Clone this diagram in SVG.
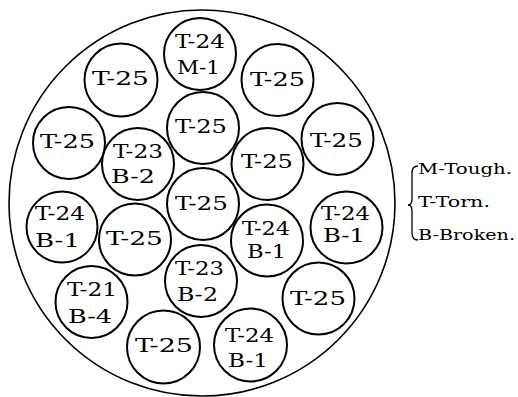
<svg xmlns="http://www.w3.org/2000/svg" width="518" height="397" viewBox="0 0 518 397">
<style>
.outer{fill:none;stroke:#000;stroke-width:1.6}
.c{fill:none;stroke:#000;stroke-width:2}
text{font-family:"DejaVu Serif","Liberation Serif",serif;font-size:18px;fill:#000;text-anchor:middle}
.lg{font-size:14px;text-anchor:start}
.br{fill:none;stroke:#000;stroke-width:1.3}
</style>
<rect width="518" height="397" fill="#fff"/>
<circle class="outer" cx="202" cy="203" r="193"/>
<g id="n1"><circle class="c" cx="200" cy="54" r="36"/><text x="200" y="48" textLength="50" lengthAdjust="spacingAndGlyphs">T-24</text><text x="198.5" y="74" textLength="43" lengthAdjust="spacingAndGlyphs">M-1</text></g>
<g id="n2"><circle class="c" cx="121" cy="80" r="36.5"/><text x="120.5" y="85" textLength="57" lengthAdjust="spacingAndGlyphs">T-25</text></g>
<g id="n3"><circle class="c" cx="277.5" cy="80" r="36"/><text x="277.5" y="86" textLength="55" lengthAdjust="spacingAndGlyphs">T-25</text></g>
<g id="n4"><circle class="c" cx="203" cy="128" r="36"/><text x="201" y="133" textLength="52" lengthAdjust="spacingAndGlyphs">T-25</text></g>
<g id="n5"><circle class="c" cx="69" cy="143" r="36"/><text x="67.5" y="148" textLength="55" lengthAdjust="spacingAndGlyphs">T-25</text></g>
<g id="n6"><circle class="c" cx="138" cy="164" r="36"/><text x="138" y="158" textLength="50" lengthAdjust="spacingAndGlyphs">T-23</text><text x="133" y="183" textLength="44" lengthAdjust="spacingAndGlyphs">B-2</text></g>
<g id="n7"><circle class="c" cx="267.5" cy="164" r="36"/><text x="267" y="168" textLength="52" lengthAdjust="spacingAndGlyphs">T-25</text></g>
<g id="n8"><circle class="c" cx="337.5" cy="139" r="36"/><text x="336.5" y="147" textLength="53" lengthAdjust="spacingAndGlyphs">T-25</text></g>
<g id="n9"><circle class="c" cx="203" cy="204" r="36"/><text x="201.5" y="210" textLength="53" lengthAdjust="spacingAndGlyphs">T-25</text></g>
<g id="n10"><circle class="c" cx="62" cy="227" r="35.5"/><text x="60" y="220" textLength="50" lengthAdjust="spacingAndGlyphs">T-24</text><text x="57.5" y="247" textLength="45" lengthAdjust="spacingAndGlyphs">B-1</text></g>
<g id="n11"><circle class="c" cx="135" cy="239.5" r="36"/><text x="134.5" y="245" textLength="57" lengthAdjust="spacingAndGlyphs">T-25</text></g>
<g id="n12"><circle class="c" cx="267" cy="240.5" r="36"/><text x="266" y="235" textLength="48" lengthAdjust="spacingAndGlyphs">T-24</text><text x="266.5" y="258" textLength="39" lengthAdjust="spacingAndGlyphs">B-1</text></g>
<g id="n13"><circle class="c" cx="346.5" cy="227.5" r="36"/><text x="345.5" y="220" textLength="49" lengthAdjust="spacingAndGlyphs">T-24</text><text x="344" y="242" textLength="42" lengthAdjust="spacingAndGlyphs">B-1</text></g>
<g id="n14"><circle class="c" cx="201" cy="281" r="36"/><text x="199.5" y="275" textLength="49" lengthAdjust="spacingAndGlyphs">T-23</text><text x="197.5" y="301" textLength="41" lengthAdjust="spacingAndGlyphs">B-2</text></g>
<g id="n15"><circle class="c" cx="91.5" cy="302" r="36"/><text x="92" y="296" textLength="50" lengthAdjust="spacingAndGlyphs">T-21</text><text x="90" y="323" textLength="44" lengthAdjust="spacingAndGlyphs">B-4</text></g>
<g id="n16"><circle class="c" cx="318.5" cy="298.5" r="36"/><text x="318" y="305" textLength="56" lengthAdjust="spacingAndGlyphs">T-25</text></g>
<g id="n17"><circle class="c" cx="163.5" cy="347" r="36.5"/><text x="164" y="352" textLength="58" lengthAdjust="spacingAndGlyphs">T-25</text></g>
<g id="n18"><circle class="c" cx="250.5" cy="345" r="36.5"/><text x="249.5" y="342" textLength="49" lengthAdjust="spacingAndGlyphs">T-24</text><text x="248" y="367" textLength="40" lengthAdjust="spacingAndGlyphs">B-1</text></g>
<g id="legend">
<path class="br" d="M418 166 Q412 166 412 173 L412 199 Q412 205 408 205 Q412 205 412 211 L412 233 Q412 240 418 240"/>
<text class="lg" x="418" y="174" textLength="94" lengthAdjust="spacingAndGlyphs">M-Tough.</text>
<text class="lg" x="418" y="207" textLength="72" lengthAdjust="spacingAndGlyphs">T-Torn.</text>
<text class="lg" x="418" y="240" textLength="97" lengthAdjust="spacingAndGlyphs">B-Broken.</text>
</g>
</svg>
